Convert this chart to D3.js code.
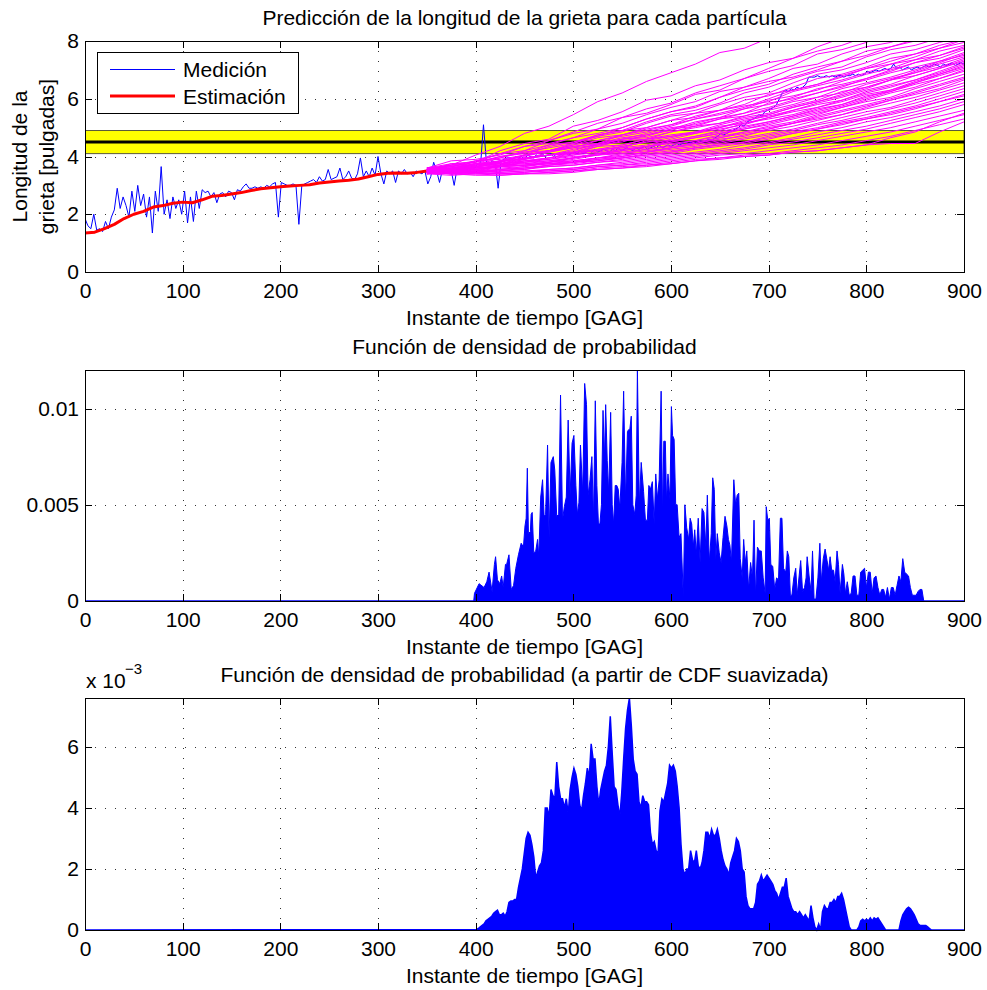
<!DOCTYPE html>
<html><head><meta charset="utf-8">
<script src="https://cdn.jsdelivr.net/npm/d3@7"></script>
<style>body{margin:0;background:#fff} svg{display:block} text{font-family:"Liberation Sans",Arial,Helvetica,sans-serif;fill:#000}</style>
</head><body><svg id="c" width="987" height="990"></svg>
<script>
// ---------------- DATA ----------------
const xTicks = [0,100,200,300,400,500,600,700,800,900];
const topYTicks = [0,2,4,6,8];
const midYTicks = [0,5,10];           // in units of 1e-3
const midYTickLabels = ["0","0.005","0.01"];
const botYTicks = [0,2,4,6];          // in units of 1e-3
const botYTickLabels = ["0","2","4","6"];

const titles = ["Predicción de la longitud de la grieta para cada partícula",
                "Función de densidad de probabilidad",
                "Función de densidad de probabilidad (a partir de CDF suavizada)"];
const xLabel = "Instante de tiempo [GAG]";
const yLabelLines = ["Longitud de la","grieta [pulgadas]"];
const legendLabels = ["Medición","Estimación"];

// threshold band
const thresholdLow = 4.1, threshold = 4.5, thresholdHigh = 4.9;

// measurement, sampled every 3 GAG from 0
const measStep = 3;
const measV = [
1.85,1.6,1.5,2.0,1.45,1.5,1.4,1.75,1.5,1.9,
2.15,2.9,2.2,2.6,2.3,1.9,2.8,2.1,3.0,2.3,
2.7,1.9,2.6,1.35,2.8,2.1,3.65,2.0,2.5,1.85,
2.6,2.2,2.5,2.0,2.8,1.7,2.6,1.75,2.8,2.2,
2.85,2.75,2.8,2.6,
2.75,2.4,2.7,2.75,2.6,2.8,2.75,2.5,2.85,2.8,
2.95,3.05,2.9,2.9,2.95,2.9,2.95,2.9,3.0,2.95,
3.05,3.1,1.9,
3.1,3.05,3.0,3.0,3.05,3.0,1.65,3.0,3.05,3.1,
3.15,3.2,3.1,3.3,3.15,3.2,3.55,3.2,3.25,3.3,
3.6,3.2,3.3,3.5,3.25,3.2,3.4,3.95,3.3,3.5,
3.3,3.6,3.35,4.0,3.4,3.05,3.5,3.4,3.5,3.1,
3.5,3.4,3.55,3.4,3.45,3.3,3.5,3.45,3.4,3.5,
3.05,3.3,3.8,3.5,3.1,3.55,3.4,3.6,3.5,3.0,
3.6,3.55,3.5,3.65,3.4,3.7,3.6,3.75,3.7,5.1,
3.8,3.7,3.85,3.8,2.9,3.85,3.9,3.95,
3.95,3.9,4.0,3.95,4.0,3.9,4.05,4.0,3.95,4.05,
4.0,4.1,4.0,4.05,4.1,4.0,4.1,4.05,4.1,4.15,
4.05,4.1,4.15,4.1,4.2,4.1,4.15,4.2,4.15,4.25,
4.15,4.2,4.25,4.2,4.15,4.25,4.2,4.3,4.2,4.25,
4.3,4.25,4.2,4.3,4.25,4.3,4.35,4.25,4.3,4.35,
4.3,4.4,4.3,4.35,4.4,4.35,4.4,4.45,4.4,4.45,
4.5,4.45,4.5,4.45,4.5,4.55,4.5,4.55,4.6,4.55,
4.65,4.7,4.8,4.75,4.8,4.85,4.9,4.95,5.0,5.1,
5.05,5.2,5.25,5.3,5.35,5.45,5.4,5.55,5.6,5.65,
5.7,5.8,6.0,6.2,6.3,6.25,6.35,6.3,6.4,6.35,
6.4,6.5,6.75,6.75,6.75,6.8,6.75,6.75,6.8,6.75,
6.8,6.75,6.8,6.8,6.75,6.8,6.8,6.85,6.8,6.85,
6.8,6.85,6.95,6.9,6.95,7.0,6.95,7.0,7.05,7.0,
7.05,7.2,7.05,7.1,7.0,7.05,7.1,7.0,7.05,7.1,
7.05,7.1,7.15,7.1,7.15,7.2,7.15,7.1,7.2,7.15,
7.2,7.25,7.15,7.2,7.25,7.2];

// estimation, every 10 GAG from 0 to 350
const estStep = 10;
const estV = [1.35,1.38,1.5,1.65,1.85,2.0,2.1,2.25,2.3,2.38,2.42,2.4,2.5,2.62,2.65,2.7,2.75,2.82,
              2.88,2.92,2.95,2.98,3.0,3.02,3.08,3.12,3.15,3.18,3.22,3.3,3.38,3.42,3.43,3.42,3.45,3.5];

// particle predictions, every 25 GAG from 350 to 900
const particleT = [350,375,400,425,450,475,500,525,550,575,600,625,650,675,700,725,750,775,800,825,850,875,900];
const particles = [
[3.55,3.70,4.05,4.35,4.80,5.05,5.45,5.90,6.20,6.60,6.90,7.20,7.60,7.75,8.10,8.25,8.65,8.85,9.05,9.35,9.45,9.70,9.90],
[3.50,3.75,3.80,4.20,4.45,4.60,5.05,5.25,5.55,5.95,6.10,6.45,6.65,7.00,7.25,7.40,7.80,8.10,8.25,8.60,8.85,9.00,9.20],
[3.45,3.55,3.85,4.10,4.20,4.55,4.80,4.95,5.35,5.50,5.80,6.15,6.30,6.70,6.95,7.15,7.55,7.70,7.95,8.30,8.40,8.75,8.90],
[3.60,3.85,3.90,4.05,4.35,4.45,4.65,4.95,5.15,5.45,5.70,5.90,6.25,6.40,6.70,7.05,7.20,7.55,7.80,7.95,8.25,8.35,8.60],
[3.50,3.55,3.75,4.00,4.10,4.40,4.65,4.80,5.00,5.30,5.55,5.70,6.05,6.30,6.50,6.85,7.10,7.30,7.65,7.80,8.05,8.25,8.40],
[3.55,3.70,3.70,3.95,4.15,4.30,4.45,4.75,4.90,5.20,5.45,5.60,5.85,6.20,6.40,6.70,6.95,7.10,7.45,7.70,7.85,8.10,8.30],
[3.40,3.60,3.65,3.80,4.05,4.20,4.45,4.70,4.85,5.15,5.40,5.50,5.80,6.05,6.20,6.55,6.85,7.00,7.25,7.55,7.70,7.95,8.15],
[3.50,3.70,3.85,3.95,4.20,4.40,4.50,4.75,4.90,5.00,5.25,5.50,5.60,5.95,6.10,6.40,6.70,6.85,7.10,7.40,7.55,7.85,8.05],
[3.45,3.50,3.65,3.75,3.90,4.15,4.35,4.45,4.75,4.90,5.10,5.40,5.60,5.80,6.15,6.30,6.50,6.80,7.05,7.20,7.45,7.75,7.95],
[3.60,3.75,3.80,4.00,4.15,4.20,4.40,4.65,4.75,5.00,5.25,5.35,5.60,5.75,5.90,6.25,6.45,6.65,6.90,7.20,7.35,7.65,7.85],
[3.50,3.55,3.75,3.80,4.05,4.15,4.30,4.55,4.70,4.85,5.05,5.30,5.45,5.65,5.95,6.10,6.30,6.60,6.85,7.05,7.35,7.50,7.75],
[3.40,3.50,3.50,3.70,3.90,4.05,4.15,4.40,4.60,4.70,4.95,5.20,5.35,5.65,5.80,6.05,6.35,6.50,6.70,7.00,7.25,7.40,7.70],
[3.55,3.65,3.85,3.90,4.05,4.20,4.35,4.45,4.65,4.75,4.90,5.15,5.35,5.50,5.85,6.00,6.20,6.45,6.65,6.90,7.10,7.30,7.60],
[3.50,3.60,3.60,3.85,3.95,4.05,4.25,4.40,4.50,4.75,4.95,5.05,5.30,5.40,5.65,5.90,6.05,6.35,6.55,6.75,7.00,7.30,7.50],
[3.45,3.55,3.70,3.75,3.95,4.05,4.10,4.35,4.55,4.60,4.85,5.05,5.15,5.40,5.60,5.80,6.05,6.20,6.50,6.70,6.90,7.20,7.45],
[3.60,3.70,3.75,3.80,4.05,4.20,4.30,4.40,4.60,4.65,4.85,5.00,5.15,5.35,5.50,5.75,5.95,6.25,6.40,6.65,6.90,7.10,7.40],
[3.50,3.45,3.65,3.75,3.85,3.95,4.15,4.25,4.40,4.60,4.75,4.85,5.10,5.30,5.45,5.70,5.90,6.10,6.35,6.65,6.80,7.05,7.35],
[3.40,3.50,3.55,3.65,3.85,3.90,4.05,4.25,4.30,4.55,4.70,4.85,5.00,5.25,5.40,5.60,5.85,6.05,6.30,6.50,6.80,7.05,7.30],
[3.55,3.60,3.75,3.75,3.95,4.05,4.15,4.35,4.40,4.60,4.70,4.80,5.05,5.15,5.35,5.60,5.80,5.95,6.25,6.45,6.65,6.95,7.25],
[3.50,3.55,3.65,3.70,3.85,3.95,4.05,4.15,4.30,4.40,4.60,4.80,4.95,5.10,5.35,5.55,5.70,5.95,6.20,6.40,6.65,6.90,7.20],
[3.45,3.40,3.50,3.65,3.70,3.80,3.95,4.10,4.25,4.35,4.55,4.70,4.90,5.15,5.30,5.45,5.70,5.90,6.15,6.30,6.60,6.85,7.10],
[3.60,3.65,3.70,3.85,3.90,4.05,4.15,4.20,4.35,4.50,4.55,4.70,4.85,5.05,5.20,5.40,5.65,5.80,6.10,6.25,6.55,6.80,7.05],
[3.50,3.50,3.55,3.70,3.75,3.85,3.95,4.10,4.20,4.30,4.50,4.65,4.80,4.95,5.15,5.35,5.55,5.75,6.00,6.25,6.50,6.70,7.00],
[3.45,3.55,3.60,3.65,3.80,3.90,4.00,4.05,4.20,4.35,4.45,4.55,4.75,4.95,5.10,5.30,5.50,5.70,5.95,6.20,6.40,6.70,6.95],
[3.55,3.50,3.60,3.70,3.75,3.80,3.90,4.05,4.15,4.25,4.40,4.55,4.70,4.85,5.05,5.20,5.45,5.70,5.90,6.05,6.35,6.60,6.85],
[3.50,3.45,3.50,3.60,3.65,3.80,3.85,3.95,4.10,4.25,4.35,4.45,4.65,4.85,5.00,5.15,5.40,5.60,5.80,6.00,6.25,6.50,6.75],
[3.40,3.45,3.45,3.55,3.60,3.70,3.80,3.95,4.05,4.15,4.30,4.45,4.60,4.70,4.95,5.15,5.30,5.45,5.70,5.95,6.15,6.35,6.65],
[3.55,3.60,3.65,3.75,3.80,3.85,3.95,4.05,4.10,4.20,4.30,4.40,4.55,4.75,4.90,5.05,5.25,5.45,5.65,5.85,6.05,6.30,6.55],
[3.50,3.45,3.55,3.65,3.70,3.75,3.85,3.95,4.00,4.15,4.25,4.35,4.50,4.65,4.80,4.95,5.15,5.35,5.55,5.70,5.95,6.20,6.45],
[3.45,3.40,3.45,3.50,3.55,3.70,3.75,3.85,3.95,4.10,4.20,4.30,4.45,4.60,4.75,4.90,5.10,5.25,5.45,5.65,5.85,6.10,6.35],
[3.60,3.55,3.60,3.65,3.70,3.75,3.80,3.90,3.95,4.05,4.15,4.30,4.40,4.50,4.70,4.85,5.00,5.20,5.35,5.55,5.75,6.00,6.25],
[3.50,3.40,3.45,3.50,3.55,3.65,3.70,3.80,3.90,4.00,4.10,4.25,4.35,4.45,4.60,4.80,4.95,5.10,5.30,5.45,5.65,5.90,6.15],
[3.45,3.45,3.50,3.50,3.60,3.65,3.70,3.80,3.85,3.95,4.05,4.15,4.25,4.40,4.50,4.65,4.85,5.00,5.20,5.35,5.55,5.75,6.00],
[3.55,3.45,3.50,3.45,3.50,3.55,3.60,3.70,3.80,3.90,4.00,4.10,4.20,4.30,4.45,4.60,4.75,4.90,5.05,5.25,5.45,5.65,5.90],
[3.50,3.45,3.40,3.40,3.45,3.55,3.60,3.70,3.75,3.85,3.95,4.05,4.15,4.25,4.40,4.50,4.65,4.80,4.95,5.15,5.35,5.55,5.80],
[3.40,3.35,3.40,3.45,3.50,3.50,3.55,3.65,3.70,3.80,3.90,4.00,4.10,4.20,4.30,4.40,4.55,4.70,4.85,5.00,5.20,5.40,5.60],
[3.55,3.50,3.45,3.40,3.45,3.50,3.55,3.65,3.70,3.75,3.85,3.95,4.05,4.10,4.20,4.30,4.40,4.55,4.70,4.85,5.05,5.25,5.45],
[3.50,3.40,3.40,3.35,3.40,3.45,3.50,3.60,3.65,3.70,3.80,3.90,3.95,4.05,4.10,4.20,4.30,4.40,4.55,4.70,4.90,5.10,5.30],
[3.45,3.40,3.35,3.35,3.40,3.40,3.45,3.55,3.60,3.65,3.75,3.85,3.90,4.00,4.05,4.15,4.20,4.30,4.40,4.65,4.85,5.20,5.50],
[3.50,3.45,3.45,3.40,3.40,3.45,3.50,3.55,3.60,3.70,3.75,3.85,3.95,4.00,4.05,4.15,4.20,4.30,4.40,4.45,4.45,4.85,5.20],
[3.50,3.65,3.80,4.10,4.35,4.55,4.85,5.15,5.35,5.65,5.85,6.20,6.45,6.70,7.05,7.40,7.65,7.85,8.15,8.35,8.60,8.80,9.00],
[3.45,3.60,3.75,3.85,4.05,4.35,4.50,4.70,5.00,5.30,5.55,5.75,6.05,6.40,6.60,6.75,7.00,7.30,7.50,7.80,8.00,8.20,8.45],
[3.55,3.55,3.65,3.85,4.00,4.20,4.40,4.55,4.75,4.95,5.10,5.30,5.50,5.70,6.00,6.30,6.50,6.75,7.05,7.30,7.55,7.75,8.05],
[3.50,3.60,3.70,3.80,3.95,4.05,4.20,4.45,4.60,4.80,5.00,5.10,5.30,5.50,5.70,5.95,6.20,6.40,6.70,6.95,7.25,7.50,7.80],
[3.40,3.50,3.60,3.65,3.80,3.95,4.10,4.20,4.35,4.50,4.65,4.85,5.00,5.20,5.45,5.70,5.90,6.15,6.40,6.65,6.95,7.25,7.55],
[3.55,3.50,3.55,3.65,3.70,3.80,3.95,4.10,4.25,4.35,4.50,4.65,4.80,5.00,5.20,5.40,5.60,5.80,6.05,6.30,6.55,6.85,7.15],
[3.50,3.50,3.45,3.55,3.60,3.70,3.80,3.90,4.00,4.15,4.30,4.50,4.65,4.80,4.95,5.15,5.35,5.55,5.75,5.95,6.20,6.45,6.70],
[3.45,3.40,3.50,3.55,3.65,3.75,3.80,3.85,3.95,4.05,4.15,4.30,4.40,4.50,4.65,4.80,4.95,5.15,5.30,5.50,5.70,5.90,6.10]];

// PDF (x1e-3): times and values
const pdfT = [0,398,398.8,403.5,408.6,411.4,413.7,416.8,419.2,420.4,422.3,424.7,426.6,428.2,430.5,431.7,434.1,436.4,438.8,441.1,443.8,446.6,448.9,450.5,451.7,452.9,454.0,456.0,456.8,457.9,459.5,461.5,463.4,464.6,466.6,468.5,470.1,471.6,473.6,475.2,477.1,479.5,481.0,483.0,485.0,486.9,488.9,490.8,492.8,494.7,496.7,498.7,500.6,502.6,504.1,505.7,507.3,509.6,511.6,513.5,515.1,517.1,519.0,520.6,522.5,524.1,525.7,527.2,528.8,530.4,531.9,533.1,534.7,536.2,538.2,539.8,541.3,542.9,544.5,546.0,547.6,549.9,551.5,553.5,555.4,556.6,557.8,559.3,560.9,562.9,564.4,565.6,567.6,569.5,571.9,573.8,575.8,577.3,578.9,580.9,582.8,584.4,586.0,587.9,589.9,591.4,592.6,594.2,595.4,596.9,598.9,600.4,601.6,603.2,604.8,606.3,608.3,610.2,612.6,614.2,616.1,618.1,619.6,621.2,622.8,624.3,625.9,627.9,629.8,631.8,633.7,635.7,637.2,639.2,641.2,642.7,644.3,645.9,647.4,649.4,651.3,653.3,655.3,657.2,658.8,660.3,661.9,664.3,666.2,667.8,669.4,670.9,672.9,674.4,676.0,677.6,679.5,681.5,683.4,685.0,686.6,688.5,690.5,692.4,694.4,696.4,697.5,699.1,700.7,702.2,704.2,706.2,708.1,710.1,712.0,713.6,715.2,717.5,719.1,720.6,722.2,723.8,725.7,727.7,729.2,731.2,732.8,734.7,736.7,738.3,739.4,741.4,743.4,744.9,746.5,748.4,750.4,752.4,753.9,755.9,757.8,759.8,761.3,762.9,764.5,766.4,768.0,770.0,771.5,773.1,775.5,777.0,778.6,780.5,782.5,784.5,786.4,788.4,790.3,792.3,794.2,796.2,798.2,800.1,802.1,804.0,806.0,807.9,809.9,811.9,813.8,815.8,817.7,819.7,821.6,823.6,825.6,827.5,829.5,831.4,833.4,835.3,837.3,839.3,841.2,843.2,845.1,847.1,849.0,851.0,853.0,854.9,856.9,858.8,900];
const pdfV = [0,0,0.4,0.9,0.7,1.0,1.5,0.5,1.9,2.3,1.1,0.9,1.3,0.7,1.9,1.9,2.4,0.6,0.8,1.7,2.4,3.0,2.8,3.9,4.3,6.9,3.5,3.6,4.5,4.6,2.5,2.6,3.2,2.3,5.4,6.3,4.4,4.5,8.1,3.3,7.2,7.5,6.8,4.4,4.5,10.7,4.2,4.9,5.4,9.4,5.5,8.2,8.6,6.0,4.5,5.1,8.1,5.6,11.3,10.2,5.5,6.3,7.5,4.2,10.4,6.0,4.0,4.0,5.0,9.9,7.4,10.2,7.3,5.6,9.8,5.0,4.0,6.0,6.0,5.8,4.8,7.2,10.9,5.2,8.8,8.9,8.9,9.6,5.0,4.5,5.5,12.0,5.0,7.2,5.7,4.2,4.2,6.0,5.8,6.2,4.0,6.6,5.3,6.3,10.9,4.3,8.3,8.3,5.2,6.6,5.3,10.1,8.6,8.4,5.0,5.0,3.3,3.5,0.2,5.0,3.8,3.2,4.3,4.0,2.8,3.7,2.4,4.3,2.0,4.8,4.6,2.8,5.5,2.0,3.5,6.4,5.8,2.2,3.5,2.5,2.0,3.3,4.4,3.9,3.2,2.9,2.0,6.3,5.0,5.5,5.6,2.2,1.2,3.2,2.0,2.6,0.6,2.0,1.2,4.2,0.2,2.8,2.6,2.6,1.2,0.4,4.9,4.2,4.3,1.9,1.8,0.6,1.2,1.1,4.3,4.3,1.7,1.5,2.6,2.3,0.3,0.3,1.2,1.7,0.3,1.3,2.1,0.5,0.7,1.2,2.3,1.3,0.5,2.6,0.1,0.1,1.2,3.0,1.0,2.2,2.7,2.1,1.6,2.3,1.6,1.6,1.0,2.6,1.9,0.4,1.9,1.4,0.4,1.0,0.3,0.4,1.3,1.3,0.3,0.3,1.5,1.6,1.7,0.7,1.5,1.5,0.4,1.2,1.3,0.7,0.3,0.6,0.6,0.2,0.7,0.1,0.7,0.7,0.3,0.8,1.3,1.0,2.2,1.5,1.4,1.3,0.7,0.3,0.3,0.3,0.5,0.6,0.6,0,0];

// smoothed PDF (x1e-3), evenly sampled from 400.8 to 866.7
const smoothStart = 400.8, smoothEnd = 866.7;
const smoothV = [
0.02,0.05,0.1,0.15,0.2,0.3,0.35,0.4,0.45,0.55,0.6,0.65,0.5,0.5,0.55,0.45,0.6,0.9,0.95,0.95,
1.0,1.0,1.4,1.7,2.0,2.5,3.0,3.2,3.1,2.8,2.4,1.7,1.9,2.1,2.2,2.6,4.0,4.0,3.7,4.6,
4.4,4.3,5.5,4.7,4.3,4.3,4.0,4.3,3.8,4.6,5.0,5.3,5.1,4.7,4.1,3.9,4.4,4.8,5.3,5.0,
6.1,5.6,5.6,4.7,4.1,4.6,4.9,5.2,5.4,6.0,7.0,5.8,4.7,4.6,4.1,3.7,4.5,5.6,6.6,7.2,
7.6,6.7,5.6,5.2,5.1,4.2,4.0,4.4,4.2,4.2,4.1,3.2,2.8,2.9,2.6,2.5,3.9,4.3,4.2,4.5,
4.8,5.4,5.3,5.4,5.2,4.7,4.0,2.8,2.0,1.8,2.0,2.0,2.6,2.3,2.2,2.6,2.1,2.0,2.2,2.6,
3.2,3.2,3.0,3.3,3.1,3.1,3.3,3.0,2.6,2.3,2.1,2.0,1.8,2.2,2.4,2.6,3.0,2.9,2.6,2.0,
1.9,1.1,0.8,0.7,0.7,0.7,0.9,1.5,1.6,1.8,1.6,1.7,1.8,1.7,1.6,1.5,1.3,1.2,1.0,1.2,
1.4,1.4,1.7,1.1,0.9,0.7,0.6,0.6,0.5,0.6,0.5,0.4,0.5,0.4,0.3,0.8,0.4,0.1,0.0,0.2,
0.0,0.6,0.8,0.7,0.7,0.9,0.9,1.0,0.9,1.1,1.1,1.2,1.0,0.7,0.4,0.1,0.0,0.0,0.0,0.0,
0.1,0.3,0.35,0.3,0.35,0.3,0.4,0.3,0.4,0.35,0.4,0.3,0.2,0.1,0.0,0.0,0.0,0.0,0.0,0.0,
0.0,0.0,0.3,0.5,0.6,0.7,0.75,0.7,0.6,0.5,0.35,0.2,0.15,0.15,0.15,0.15,0.1,0.05,0.0];

// ---------------- DRAWING ----------------
const svg = d3.select("#c");
const FS = 21;
const xScale = d3.scaleLinear().domain([0,900]).range([85,964]);

function frame(top, bottom, yDomain) {
  const y = d3.scaleLinear().domain(yDomain).range([bottom, top]);
  const g = svg.append("g");
  const grid = g.append("g").attr("stroke","#333").attr("stroke-width",1).attr("stroke-dasharray","1,9");
  return {y, g, grid};
}

function drawGrid(p, yTicks) {
  const [yb, yt] = p.y.range();
  xTicks.slice(1,-1).forEach(t => p.grid.append("line")
     .attr("x1", Math.round(xScale(t))+0.5).attr("x2", Math.round(xScale(t))+0.5)
     .attr("y1", yt).attr("y2", yb));
  yTicks.forEach(t => { const yy = Math.round(p.y(t))+0.5; if (yy>yt+1 && yy<yb-1)
     p.grid.append("line").attr("x1",xScale(0)).attr("x2",xScale(900)).attr("y1",yy).attr("y2",yy); });
}

function drawAxes(p, yTicks, yFmt, labelPad) {
  const [yb, yt] = p.y.range();
  const ax = svg.append("g");
  const styleAxis = sel => { sel.select(".domain").remove();
    sel.selectAll("line").attr("stroke","#000").attr("shape-rendering","crispEdges");
    sel.selectAll("text").attr("font-size",FS).attr("fill","#000")
       .attr("font-family",'"Liberation Sans",Arial,Helvetica,sans-serif');
    sel.attr("font-size",null).attr("font-family",null); };
  ax.append("g").attr("transform",`translate(0,${yb})`)
    .call(d3.axisBottom(xScale).tickValues(xTicks).tickSize(-7).tickSizeOuter(0).tickPadding(11)).call(styleAxis);
  ax.append("g").attr("transform",`translate(0,${yt})`)
    .call(d3.axisTop(xScale).tickValues(xTicks).tickSize(-7).tickSizeOuter(0).tickFormat("")).call(styleAxis);
  ax.append("g").attr("transform",`translate(${xScale(0)},0)`)
    .call(d3.axisLeft(p.y).tickValues(yTicks).tickSize(-7).tickSizeOuter(0).tickPadding(labelPad).tickFormat(yFmt)).call(styleAxis);
  ax.append("g").attr("transform",`translate(${xScale(900)},0)`)
    .call(d3.axisRight(p.y).tickValues(yTicks).tickSize(-7).tickSizeOuter(0).tickFormat("")).call(styleAxis);
  ax.append("rect").attr("x",xScale(0)+0.5).attr("y",yt+0.5).attr("width",xScale(900)-xScale(0)).attr("height",yb-yt)
    .attr("fill","none").attr("stroke","#000").attr("stroke-width",1);
  ax.append("text").attr("x",(xScale(0)+xScale(900))/2).attr("y",yb+53).attr("text-anchor","middle")
    .attr("font-size",FS).text(xLabel);
}

function title(p, txt) {
  const [yb, yt] = p.y.range();
  svg.append("text").attr("x",(xScale(0)+xScale(900))/2).attr("y",yt-16).attr("text-anchor","middle")
    .attr("font-size",FS).text(txt);
}

// ---- Panel 1 ----
const p1 = frame(41, 272, [0,8]);
drawGrid(p1, topYTicks);
svg.append("clipPath").attr("id","clip1").append("rect")
  .attr("x",xScale(0)).attr("y",41).attr("width",xScale(900)-xScale(0)).attr("height",272-41);
const d1 = p1.g.append("g").attr("clip-path","url(#clip1)");
d1.append("rect").attr("x",xScale(0)).attr("width",xScale(900)-xScale(0))
  .attr("y",p1.y(thresholdHigh)).attr("height",p1.y(thresholdLow)-p1.y(thresholdHigh))
  .attr("fill","#ffff00").attr("stroke","#5a5a3a").attr("stroke-width",1);
d1.append("line").attr("x1",xScale(0)).attr("x2",xScale(900))
  .attr("y1",p1.y(threshold)).attr("y2",p1.y(threshold)).attr("stroke","#000").attr("stroke-width",3);
const line1 = d3.line().x(d=>xScale(d[0])).y(d=>p1.y(d[1]));
d1.append("path").datum(measV.map((v,i)=>[i*measStep,v])).attr("d",line1)
  .attr("fill","none").attr("stroke","#0000ff").attr("stroke-width",1);
d1.append("path").datum(estV.map((v,i)=>[i*estStep,v])).attr("d",line1)
  .attr("fill","none").attr("stroke","#ff0000").attr("stroke-width",3).attr("stroke-linejoin","round");
particles.forEach(row => d1.append("path").datum(row.map((v,i)=>[particleT[i],v])).attr("d",line1)
  .attr("fill","none").attr("stroke","#ff00ff").attr("stroke-width",1));
drawAxes(p1, topYTicks, d=>String(d), 6);
title(p1, titles[0]);
// legend
const lg = svg.append("g");
lg.append("rect").attr("x",97.5).attr("y",52.5).attr("width",201).attr("height",61)
  .attr("fill","#fff").attr("stroke","#000").attr("stroke-width",1);
lg.append("line").attr("x1",110).attr("x2",175).attr("y1",69.5).attr("y2",69.5).attr("stroke","#0000ff").attr("stroke-width",1);
lg.append("line").attr("x1",110).attr("x2",175).attr("y1",96).attr("y2",96).attr("stroke","#ff0000").attr("stroke-width",3);
lg.append("text").attr("x",183).attr("y",77).attr("font-size",FS).text(legendLabels[0]);
lg.append("text").attr("x",183).attr("y",104).attr("font-size",FS).text(legendLabels[1]);
// y label
const yl = svg.append("g").attr("transform",`translate(0,${(41+272)/2}) rotate(-90)`);
yl.append("text").attr("x",0).attr("y",27).attr("text-anchor","middle").attr("font-size",FS).text(yLabelLines[0]);
yl.append("text").attr("x",0).attr("y",54).attr("text-anchor","middle").attr("font-size",FS).text(yLabelLines[1]);

// ---- Panel 2 ----
const p2 = frame(370, 601, [0,12]);
drawGrid(p2, midYTicks);
const nPdf = Math.min(pdfT.length, pdfV.length);
const pdfData = d3.range(nPdf).map(i => [pdfT[i], pdfV[i]]);
const area2 = d3.area().x(d=>xScale(d[0])).y0(p2.y(0)).y1(d=>p2.y(d[1]));
p2.g.append("path").datum(pdfData).attr("d",area2).attr("fill","#0000ff").attr("stroke","#0000ff").attr("stroke-width",1);
drawAxes(p2, midYTicks, (d,i)=>midYTickLabels[i], 6);
title(p2, titles[1]);

// ---- Panel 3 ----
const p3 = frame(698, 930, [0,7.6]);
drawGrid(p3, botYTicks);
const smoothT = smoothV.map((v,i)=> smoothStart + i*(smoothEnd-smoothStart)/(smoothV.length-1));
const smoothData = [[0,0]].concat(smoothV.map((v,i)=>[smoothT[i],v]), [[900,0]]);
const area3 = d3.area().x(d=>xScale(d[0])).y0(p3.y(0)).y1(d=>p3.y(d[1]));
p3.g.append("path").datum(smoothData).attr("d",area3).attr("fill","#0000ff").attr("stroke","#0000ff").attr("stroke-width",1.5);
drawAxes(p3, botYTicks, (d,i)=>botYTickLabels[i], 6);
title(p3, titles[2]);
svg.append("text").attr("x",86).attr("y",688).attr("font-size",FS).text("x 10");
svg.append("text").attr("x",125).attr("y",674).attr("font-size",15).text("\u22123");
</script></body></html>
